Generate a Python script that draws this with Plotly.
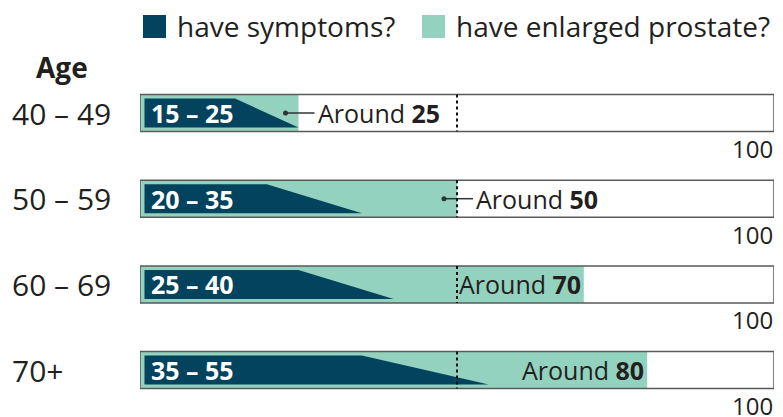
import plotly.graph_objects as go

# ---- data ----
age_groups = ["40 – 49", "50 – 59", "60 – 69", "70+"]
symptoms_low = [15, 20, 25, 35]
symptoms_high = [25, 35, 40, 55]
enlarged = [25, 50, 70, 80]
axis_max = 100
reference_mark = 50

# ---- style ----
DARK = "#03435E"
GREEN = "#93D2BF"
TEXT = "#231F20"
FONT = "Open Sans"
# the page body has an 8px default margin, so the figure is sized to fit inside it
W, H = 767, 409
ML, MR = 132, 1
ROW0_PX, ROW_STEP_PX = 105, 85.7
HALF = 18.5 / ROW_STEP_PX
INSET = 4 / ROW_STEP_PX
PLOT_W = W - ML - MR
px_per_unit = PLOT_W / axis_max

fig = go.Figure()
shapes = []
annotations = []


def px_x(p):
    return (p - ML) / PLOT_W


def px_y(p):
    return 1 - p / H


for i, age in enumerate(age_groups):
    top, bot = i - HALF, i + HALF
    shapes.append(dict(type="rect", xref="x", yref="y", x0=0, x1=axis_max, y0=top, y1=bot,
                       fillcolor="white", line=dict(width=0), layer="below"))
    # enlarged prostate (green bar)
    fig.add_trace(go.Scatter(x=[0, enlarged[i], enlarged[i], 0, 0], y=[top, top, bot, bot, top],
                             fill="toself", fillcolor=GREEN, mode="none", hoverinfo="skip",
                             showlegend=False))
    # symptoms range (dark trapezoid)
    it, ib = top + INSET, bot - INSET
    x_in = 4.5 / px_per_unit
    fig.add_trace(go.Scatter(x=[x_in, symptoms_low[i], symptoms_high[i], x_in, x_in],
                             y=[it, it, ib, ib, it],
                             fill="toself", fillcolor=DARK, mode="none", hoverinfo="skip",
                             showlegend=False))
    # outline
    shapes.append(dict(type="rect", xref="x", yref="y", x0=0, x1=axis_max, y0=top, y1=bot,
                       fillcolor="rgba(0,0,0,0)", line=dict(color="#5a5a5a", width=1.5), layer="above"))
    # dotted reference line at 50
    shapes.append(dict(type="line", xref="x", yref="y", x0=reference_mark, x1=reference_mark,
                       y0=top, y1=bot, line=dict(color="#111", width=2, dash="dot"), layer="above"))
    annotations.append(dict(x=0, y=i, xref="x", yref="y", xanchor="left", yanchor="middle",
                            xshift=9, showarrow=False,
                            text=f"<b>{symptoms_low[i]} – {symptoms_high[i]}</b>",
                            font=dict(family=FONT, size=25, color="white")))
    label = f"Around <b>{enlarged[i]}</b>"
    if enlarged[i] < 60:
        dot_x = enlarged[i] - 13 / px_per_unit
        end_x = enlarged[i] + 16 / px_per_unit
        fig.add_trace(go.Scatter(x=[dot_x, end_x], y=[i, i], mode="lines",
                                 line=dict(color="#333", width=1.5), hoverinfo="skip", showlegend=False))
        fig.add_trace(go.Scatter(x=[dot_x], y=[i], mode="markers",
                                 marker=dict(color="#333", size=5), hoverinfo="skip", showlegend=False))
        annotations.append(dict(x=enlarged[i], y=i, xref="x", yref="y", xanchor="left", yanchor="middle",
                                xshift=17, showarrow=False, text=label,
                                font=dict(family=FONT, size=25, color=TEXT)))
    else:
        annotations.append(dict(x=enlarged[i], y=i, xref="x", yref="y", xanchor="right", yanchor="middle",
                                xshift=-1, showarrow=False, text=label,
                                font=dict(family=FONT, size=25, color=TEXT)))
    annotations.append(dict(x=px_x(2), y=i, xref="paper", yref="y",
                            xanchor="left", yanchor="middle", showarrow=False, text=age,
                            font=dict(family=FONT, size=30, color=TEXT)))
    annotations.append(dict(x=axis_max, y=bot, xref="x", yref="y", xanchor="right", yanchor="middle",
                            yshift=-17, xshift=1, showarrow=False, text=str(axis_max),
                            font=dict(family=FONT, size=24, color=TEXT)))

annotations.append(dict(x=px_x(26), y=px_y(59), xref="paper", yref="paper",
                        xanchor="left", yanchor="middle", showarrow=False, text="<b>Age</b>",
                        font=dict(family=FONT, size=28, color=TEXT)))

for x0, col, txt in [(135, DARK, "have symptoms?"), (414, GREEN, "have enlarged prostate?")]:
    shapes.append(dict(type="rect", xref="paper", yref="paper", x0=px_x(x0), x1=px_x(x0 + 23),
                       y0=px_y(30), y1=px_y(7), fillcolor=col, line=dict(width=0)))
    annotations.append(dict(x=px_x(x0 + 32), y=px_y(18), xref="paper", yref="paper",
                            xanchor="left", yanchor="middle", showarrow=False, text=txt,
                            font=dict(family=FONT, size=28, color=TEXT)))

y_lo = (H - ROW0_PX) / ROW_STEP_PX
y_hi = -ROW0_PX / ROW_STEP_PX
fig.update_layout(
    width=W, height=H, margin=dict(l=ML, r=MR, t=0, b=0),
    paper_bgcolor="white", plot_bgcolor="white",
    xaxis=dict(range=[0, axis_max], visible=False, fixedrange=True),
    yaxis=dict(range=[y_lo, y_hi], visible=False, fixedrange=True),
    shapes=shapes, annotations=annotations, showlegend=False,
)
fig.write_html("out.html")
